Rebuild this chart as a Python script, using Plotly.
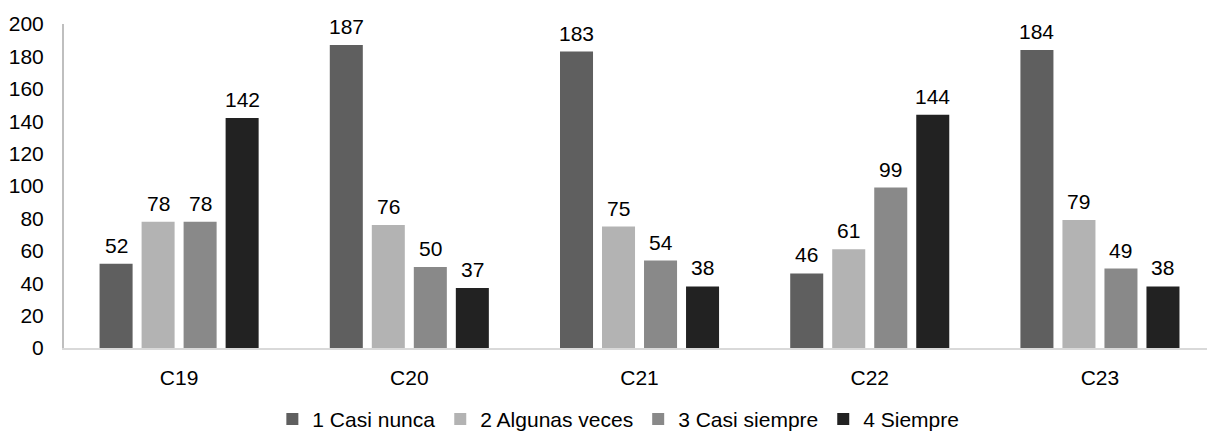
import plotly.graph_objects as go

categories = ["C19", "C20", "C21", "C22", "C23"]
series_names = ["1 Casi nunca", "2 Algunas veces", "3 Casi siempre", "4 Siempre"]
casi_nunca = [52, 187, 183, 46, 184]
algunas_veces = [78, 76, 75, 61, 79]
casi_siempre = [78, 50, 54, 99, 49]
siempre = [142, 37, 38, 144, 38]
y_ticks = [0, 20, 40, 60, 80, 100, 120, 140, 160, 180, 200]

series_values = [casi_nunca, algunas_veces, casi_siempre, siempre]
colors = ["#5f5f5f", "#b3b3b3", "#898989", "#222222"]

FONT = "Arial, 'Liberation Sans', sans-serif"
FS = 21
W, H = 1207, 440
M_L, M_R, M_T, M_B = 64, 0, 24, 86
X_RANGE = [-0.5, 4.465]
BARGAP = 0.27

fig = go.Figure()
for name, vals, col in zip(series_names, series_values, colors):
    fig.add_trace(go.Bar(
        x=categories, y=vals, name=name,
        marker=dict(color=col, line=dict(width=0)),
        hoverinfo="x+y+name",
    ))

# value labels above each bar, shifted to its slot within the group
plot_w = W - M_L - M_R
cat_px = plot_w / (X_RANGE[1] - X_RANGE[0])
slot_px = cat_px * (1 - BARGAP) / len(series_values)
annotations = []
for i, vals in enumerate(series_values):
    shift = (i - (len(series_values) - 1) / 2) * slot_px
    for c, v in zip(categories, vals):
        annotations.append(dict(
            x=c, y=v, xref="x", yref="y", text=str(v), showarrow=False,
            xshift=shift, yanchor="bottom", yshift=5,
            font=dict(family=FONT, size=FS, color="#000000"),
        ))

fig.update_layout(
    width=W, height=H,
    margin=dict(l=M_L, r=M_R, t=M_T, b=M_B),
    paper_bgcolor="white", plot_bgcolor="white",
    barmode="group", bargap=BARGAP, bargroupgap=0.214,
    font=dict(family=FONT, size=FS, color="#000000"),
    showlegend=True,
    legend=dict(
        orientation="h", x=0.485, xanchor="center", y=-0.22, yanchor="middle",
        font=dict(family=FONT, size=FS, color="#000000"),
        itemwidth=30, traceorder="normal",
    ),
    annotations=annotations,
    xaxis=dict(
        range=X_RANGE, showgrid=False, zeroline=False,
        showline=True, linecolor="#d9d9d9", linewidth=2,
        ticks="", ticklabelstandoff=10,
        tickfont=dict(family=FONT, size=FS, color="#000000"),
    ),
    yaxis=dict(
        range=[0, 200], tickvals=y_ticks, showgrid=False, zeroline=False,
        showline=True, linecolor="#bfbfbf", linewidth=2,
        ticks="", ticklabelstandoff=14,
        tickfont=dict(family=FONT, size=FS, color="#000000"),
    ),
)

fig.write_html("out.html")
